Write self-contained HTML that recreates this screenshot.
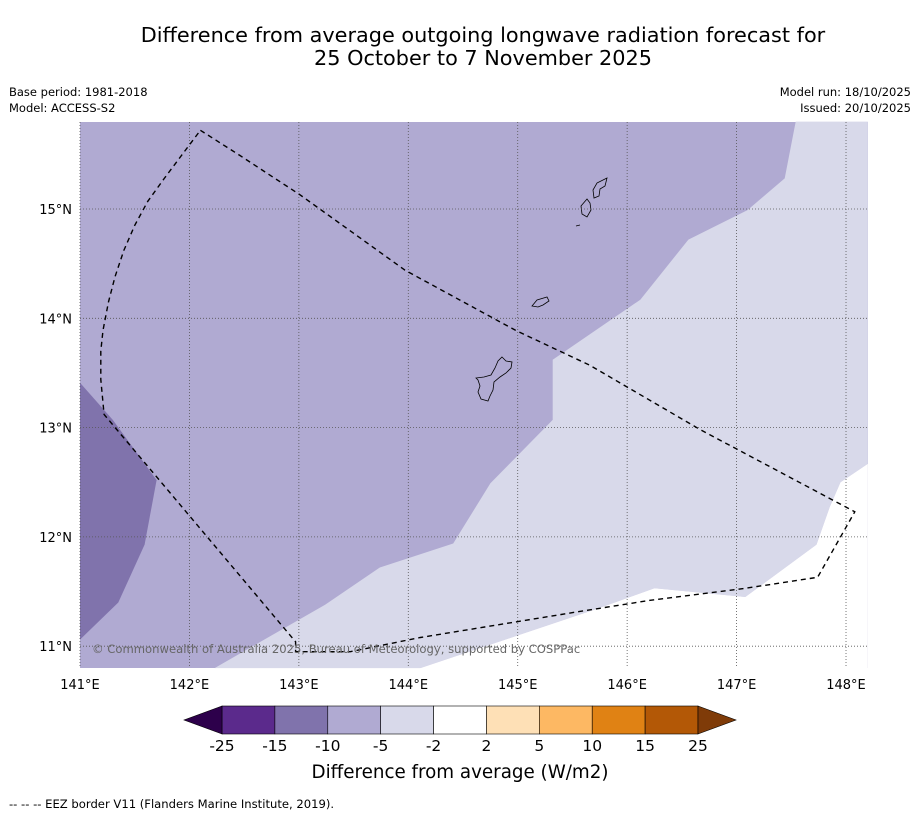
<!DOCTYPE html>
<html><head><meta charset="utf-8"><style>
body{margin:0;background:#fff;font-family:"Liberation Sans","DejaVu Sans",sans-serif}
svg text{font-family:"DejaVu Sans","Liberation Sans",sans-serif}
</style></head><body>
<svg id="c" width="919" height="816" viewBox="0 0 919 816" xmlns="http://www.w3.org/2000/svg">
<text x="483" y="42" text-anchor="middle" font-size="20.8">Difference from average outgoing longwave radiation forecast for</text>
<text x="483" y="65" text-anchor="middle" font-size="20.8">25 October to 7 November 2025</text>
<text x="9" y="96" font-size="11.5">Base period: 1981-2018</text>
<text x="9" y="112" font-size="11.5">Model: ACCESS-S2</text>
<text x="911" y="96" font-size="11.5" text-anchor="end">Model run: 18/10/2025</text>
<text x="911" y="112" font-size="11.5" text-anchor="end">Issued: 20/10/2025</text>
<g id="map"></g>
<g id="cb"></g>
<text x="460" y="778" text-anchor="middle" font-size="18.3">Difference from average (W/m2)</text>
<text x="9" y="808" font-size="11.6">--  --  -- EEZ border V11 (Flanders Marine Institute, 2019).</text>
</svg>
<script>
const lonTicks=[141,142,143,144,145,146,147,148];
const latTicks=[11,12,13,14,15];
const cbBounds=[-25,-15,-10,-5,-2,2,5,10,15,25];
const cbColors=["#5b2a8c","#8073ac","#b0aad2","#d8d9ea","#ffffff","#fee0b6","#fdb863","#e08214","#b35806"];
const cbLowExt="#2d004b", cbHighExt="#7f3b08";
// regions as [lonOffset from 141, lat]
const midRegion=[[1.23,10.80],[2.24,11.38],[2.74,11.72],[3.41,11.94],[3.75,12.49],[4.32,13.07],[4.32,13.62],[5.12,14.17],[5.56,14.72],[6.10,14.99],[6.44,15.28],[6.54,15.80],[7.20,15.80],[7.20,12.67],[6.95,12.50],[6.85,12.27],[6.73,11.93],[6.08,11.45],[5.25,11.53],[4.75,11.35],[3.11,10.80]];
const darkRegion=[[0,13.41],[0.30,13.07],[0.70,12.52],[0.59,11.93],[0.35,11.40],[0,11.06]];
const whiteRegion=[[3.11,10.80],[4.75,11.35],[5.25,11.53],[6.08,11.45],[6.73,11.93],[6.85,12.27],[6.95,12.50],[7.20,12.67],[7.20,10.80]];
const eezLine=[[1.10,15.72],[1.46,15.49],[2.01,15.13],[2.97,14.44],[3.98,13.89],[4.66,13.57],[5.67,12.98],[7.08,12.23],[6.74,11.63],[6.08,11.53],[5.21,11.42],[4.52,11.31],[3.11,11.08],[2.47,10.95],[1.97,10.95],[1.97,11.04],[0.22,13.12],[0.19,13.44],[0.19,13.70],[0.21,13.89],[0.26,14.15],[0.32,14.38],[0.40,14.62],[0.50,14.85],[0.62,15.07],[0.77,15.28],[0.92,15.48],[1.10,15.72]];
const X0=80,X1=868,Y0=122,Y1=668;
const lx=lo=>80+(lo-141)*109.43;
const ly=la=>209-(la-15)*109.3;
const NS="http://www.w3.org/2000/svg";
const svg=document.getElementById('c');
function mk(t,a,p){const e=document.createElementNS(NS,t);for(const k in a)e.setAttribute(k,a[k]);p.appendChild(e);return e;}
const map=document.getElementById('map');
const pts=a=>a.map(p=>lx(141+p[0]).toFixed(1)+","+ly(p[1]).toFixed(1)).join(" ");
const bg=mk('rect',{x:X0,y:Y0,width:X1-X0,height:Y1-Y0,fill:"#b0aad2"},map);


const mid=mk('polygon',{points:pts(midRegion),fill:"#d8d9ea"},map);


const wp=mk('polygon',{points:pts(whiteRegion),fill:"#fff"},map);


const dk=mk('polygon',{points:pts(darkRegion),fill:"#8073ac"},map);


// islands
const isl=mk('g',{fill:"none",stroke:"#000","stroke-width":"0.8"},map);


mk('path',{d:"M502,357 L506,361 L512,362 L511,368 L506,373 L500,377 L494,382 L493,390 L490,396 L488,401 L481,399 L478,392 L480,386 L478,380 L476,378 L484,377 L491,375 L495,368 L498,361 Z"},isl);
mk('path',{d:"M532,306 L537,300 L547,297 L549,301 L543,305 L538,307 Z"},isl);
mk('path',{d:"M587,199 L590,203 L591,210 L587,217 L582,214 L581,206 Z"},isl);
mk('path',{d:"M597,183 L607,178 L605,186 L600,189 L599,196 L594,198 L593,190 Z"},isl);
mk('path',{d:"M576,226 L580,225"},isl);
// grid
lonTicks.forEach(v=>{const l=mk('line',{x1:lx(v),x2:lx(v),y1:Y0,y2:Y1,stroke:"#555","stroke-width":"0.8","stroke-dasharray":"1,2"},map);


const t=mk('text',{x:lx(v),y:689,"text-anchor":"middle","font-size":"13"},svg);t.textContent=v+"°E";

});
latTicks.forEach(v=>{const l=mk('line',{x1:X0,x2:X1,y1:ly(v),y2:ly(v),stroke:"#555","stroke-width":"0.8","stroke-dasharray":"1,2"},map);


const t=mk('text',{x:72,y:ly(v)+5,"text-anchor":"end","font-size":"13"},svg);t.textContent=v+"°N";

});
const eez=mk('polyline',{points:pts(eezLine),fill:"none",stroke:"#000","stroke-width":"1.4","stroke-dasharray":"5,4"},map);


const cp=mk('text',{x:92,y:653,"font-size":"11.6",fill:"#666"},map);cp.textContent="© Commonwealth of Australia 2025, Bureau of Meteorology, supported by COSPPac";


// colorbar
const cb=document.getElementById('cb');
const CX0=222,CW=476/9,CY=706,CH=28;
cbColors.forEach((c,i)=>{const r=mk('rect',{x:CX0+i*CW,y:CY,width:CW,height:CH,fill:c,stroke:"#000","stroke-width":"0.6"},cb);

});
const lt=mk('polygon',{points:`${CX0},${CY} ${CX0-38},${CY+CH/2} ${CX0},${CY+CH}`,fill:cbLowExt,stroke:"#000","stroke-width":"0.6"},cb);


const ht=mk('polygon',{points:`${CX0+9*CW},${CY} ${CX0+9*CW+38},${CY+CH/2} ${CX0+9*CW},${CY+CH}`,fill:cbHighExt,stroke:"#000","stroke-width":"0.6"},cb);


cbBounds.forEach((v,i)=>{const t=mk('text',{x:CX0+i*CW,y:751,"text-anchor":"middle","font-size":"15.5"},cb);t.textContent=v;

});
</script>
</body></html>
